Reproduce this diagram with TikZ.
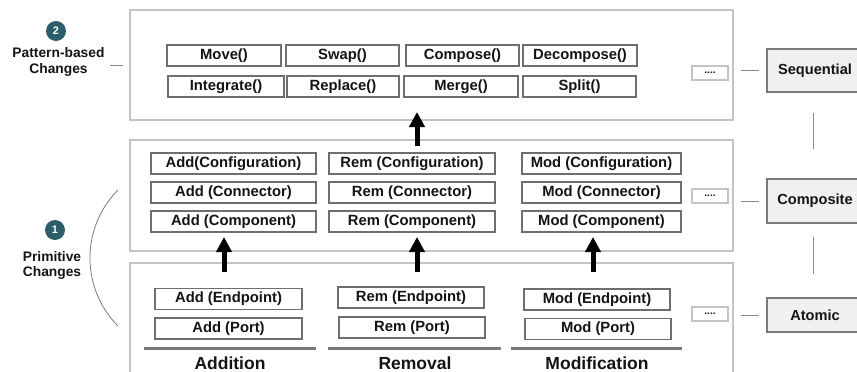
\documentclass[tikz,border=0pt]{standalone}
\usepackage{fontspec}
\setmainfont{Liberation Sans}
\usetikzlibrary{arrows.meta}
\definecolor{ink}{HTML}{141414}
\definecolor{innerline}{HTML}{6E6E6E}
\definecolor{outerline}{HTML}{C4C4C4}
\definecolor{levelfill}{HTML}{F0F0F0}
\definecolor{levelline}{HTML}{7A7A7A}
\definecolor{thinline}{HTML}{8A8A8A}
\definecolor{badge}{HTML}{2B5D6A}
\tikzset{
  op/.style={draw=innerline, line width=1.4pt, fill=white, inner sep=0pt,
    minimum height=21pt, text=ink,
    font=\bfseries\fontsize{14.8}{16}\selectfont},
  layer/.style={draw=outerline, line width=2.2pt, inner sep=0pt},
  more/.style={draw=outerline, line width=2pt, fill=white, inner sep=0pt,
    minimum width=36pt, minimum height=14pt, text=ink,
    font=\bfseries\fontsize{10}{10}\selectfont},
  level/.style={draw=levelline, line width=1.2pt, fill=levelfill, inner sep=0pt,
    minimum width=96pt, text=ink, font=\bfseries\fontsize{14.6}{16}\selectfont},
  link/.style={draw=thinline, line width=0.9pt},
  rule/.style={draw=levelline, line width=3pt},
  colname/.style={text=ink, font=\bfseries\fontsize{17.5}{19}\selectfont},
  sidelabel/.style={text=ink, align=center, font=\bfseries\fontsize{13.8}{15.5}\selectfont},
  num/.style={circle, fill=badge, minimum size=20pt, inner sep=0pt, text=white,
    font=\bfseries\fontsize{11}{11}\selectfont},
  bigarrow/.style={line width=5pt, -{Triangle[width=15pt,length=15pt]}, black},
}
\begin{document}
\begin{tikzpicture}[x=1pt, y=-1pt]
\useasboundingbox (0,0) rectangle (857,372);

% layer frames
\node[layer, minimum width=603pt, minimum height=110pt] (toplayer) at (431.5,65) {};
\node[layer, minimum width=603pt, minimum height=111pt] (midlayer) at (431.5,195.5) {};
\node[layer, minimum width=603pt, minimum height=154pt] (lowlayer) at (431.5,340) {};

% pattern-based operations
\node[op, minimum width=114pt] (move) at (224,55.5) {Move()};
\node[op, minimum width=113pt] (swap) at (342.5,55.5) {Swap()};
\node[op, minimum width=113pt] (compose) at (462.5,55.5) {Compose()};
\node[op, minimum width=114pt] (decompose) at (580,55.5) {Decompose()};
\node[op, minimum width=116pt] (integrate) at (226,86.5) {Integrate()};
\node[op, minimum width=112pt] (replace) at (343,86.5) {Replace()};
\node[op, minimum width=114pt] (merge) at (461,86.5) {Merge()};
\node[op, minimum width=113pt] (split) at (579.5,86.5) {Split()};

% composite operations
\node[op, minimum width=165pt] (addconf) at (233.5,163.5) {Add(Configuration)};
\node[op, minimum width=165pt] (addconn) at (233.5,192.5) {Add (Connector)};
\node[op, minimum width=165pt] (addcomp) at (233.5,221.5) {Add (Component)};
\node[op, minimum width=166pt] (remconf) at (412,163.5) {Rem (Configuration)};
\node[op, minimum width=166pt] (remconn) at (412,192.5) {Rem (Connector)};
\node[op, minimum width=166pt] (remcomp) at (412,221.5) {Rem (Component)};
\node[op, minimum width=159pt] (modconf) at (601.5,163.5) {Mod (Configuration)};
\node[op, minimum width=159pt] (modconn) at (601.5,192.5) {Mod (Connector)};
\node[op, minimum width=159pt] (modcomp) at (601.5,221.5) {Mod (Component)};

% atomic operations
\node[op, minimum width=147pt] (addend) at (228.5,299) {Add (Endpoint)};
\node[op, minimum width=147pt] (addport) at (228.5,328.5) {Add (Port)};
\node[op, minimum width=146pt] (remend) at (411,297.5) {Rem (Endpoint)};
\node[op, minimum width=146pt] (remport) at (412,327.5) {Rem (Port)};
\node[op, minimum width=146pt] (modend) at (597,299.5) {Mod (Endpoint)};
\node[op, minimum width=146pt] (modport) at (598,329) {Mod (Port)};

% column rules and names
\coordinate (ra1) at (144,348); \coordinate (ra2) at (316,348);
\coordinate (rr1) at (328,348); \coordinate (rr2) at (501,348);
\coordinate (rm1) at (511,348); \coordinate (rm2) at (682,348);
\draw[rule] (ra1) -- (ra2);
\draw[rule] (rr1) -- (rr2);
\draw[rule] (rm1) -- (rm2);
\node[colname] (addition) at (230,363) {Addition};
\node[colname] (removal) at (415,363) {Removal};
\node[colname] (modification) at (597,363) {Modification};

% ellipsis boxes
\node[more] (more1) at (710,72.5) {....};
\node[more] (more2) at (710,196) {....};
\node[more] (more3) at (710,314) {....};

% level boxes
\node[level, minimum height=43pt] (seq) at (815,70.5) {Sequential};
\node[level, minimum height=44pt] (comp) at (815,201) {Composite};
\node[level, minimum height=34pt] (atom) at (815,315) {Atomic};

\draw[link, shorten <=12pt, shorten >=7pt] (more1.east |- seq.west) -- (seq.west);
\draw[link, shorten <=12pt, shorten >=7pt] (more2.east |- comp.west) -- (comp.west);
\draw[link, shorten <=12pt, shorten >=7pt] (more3.east |- atom.west) -- (atom.west);
\draw[link, shorten <=20pt, shorten >=29pt] (seq.south -| 813,0) -- (comp.north -| 813,0);
\draw[link, shorten <=13pt, shorten >=23pt] (comp.south -| 813,0) -- (atom.north -| 813,0);

% upward arrows
\coordinate (up1s) at (417,146); \coordinate (up1e) at (417,112);
\coordinate (up2s) at (224,272); \coordinate (up2e) at (224,237);
\coordinate (up3s) at (417,272); \coordinate (up3e) at (417,237);
\coordinate (up4s) at (593,272); \coordinate (up4e) at (593,237);
\draw[bigarrow] (up1s) -- (up1e);
\draw[bigarrow] (up2s) -- (up2e);
\draw[bigarrow] (up3s) -- (up3e);
\draw[bigarrow] (up4s) -- (up4e);

% side labels
\node[num] (n2) at (56,31) {2};
\node[sidelabel] (pattern) at (58.5,62) {Pattern-based\\Changes};
\draw[link, shorten <=2pt, shorten >=6pt] (pattern.east |- 0,65) -- (toplayer.west |- 0,65);

\node[num] (n1) at (55,230) {1};
\node[sidelabel] (primitive) at (52,265.5) {Primitive\\Changes};
\coordinate (arcstart) at (117.9,190.05);
\draw[draw=levelline, line width=0.8pt] (arcstart)
  arc[start angle=224.7, end angle=135.3, radius=96.6];
\end{tikzpicture}
\end{document}
